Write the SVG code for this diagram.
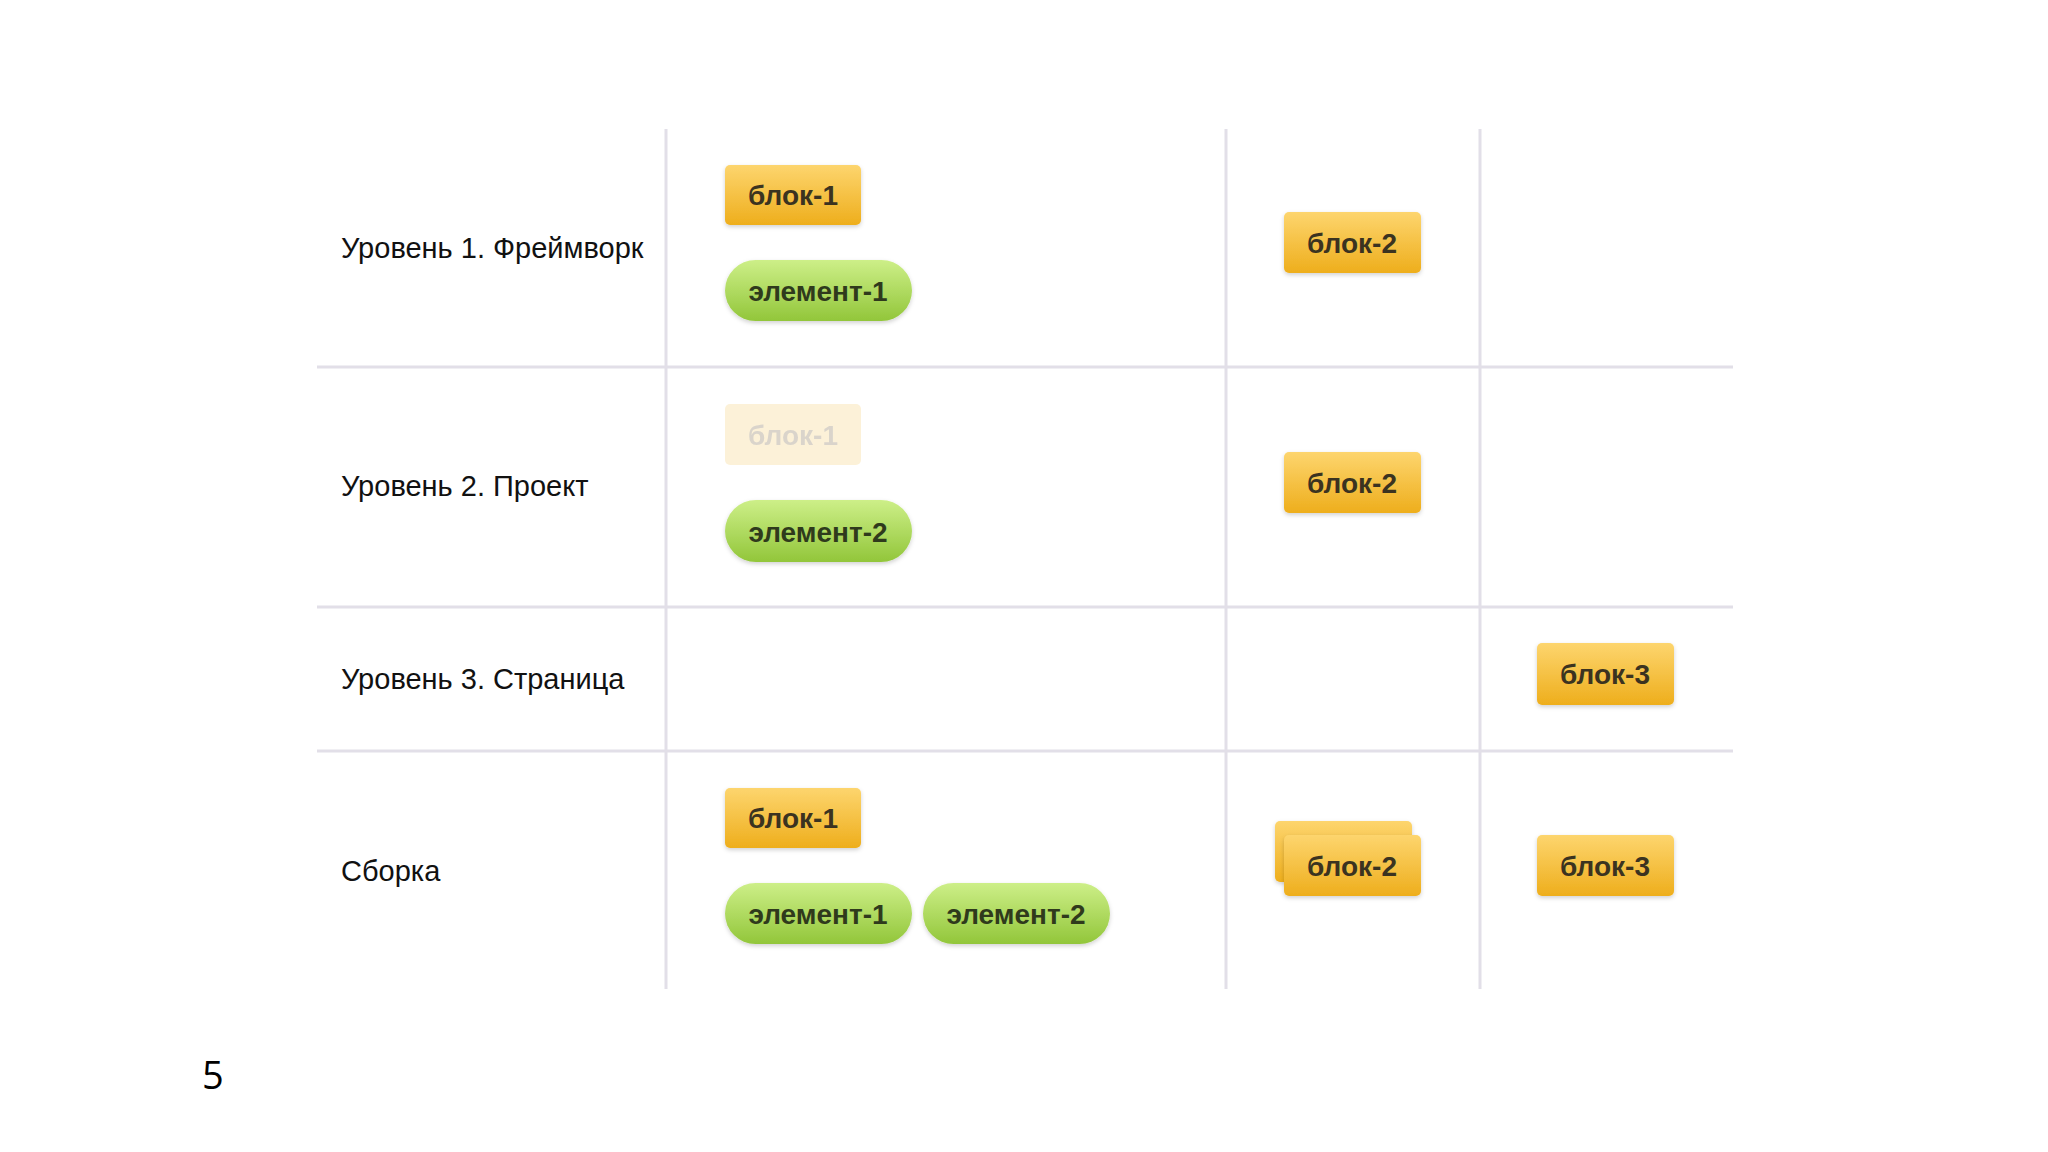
<svg xmlns="http://www.w3.org/2000/svg" width="2048" height="1152" viewBox="0 0 2048 1152">
<defs>
<linearGradient id="gBlock" x1="0" y1="0" x2="0" y2="1">
<stop offset="0" stop-color="#fdd56e"/>
<stop offset="1" stop-color="#eeae1c"/>
</linearGradient>
<linearGradient id="gElem" x1="0" y1="0" x2="0" y2="1">
<stop offset="0" stop-color="#cdef88"/>
<stop offset="1" stop-color="#92c63a"/>
</linearGradient>
<filter id="sh" x="-20%" y="-20%" width="140%" height="150%">
<feDropShadow dx="0" dy="2" stdDeviation="2" flood-color="#000" flood-opacity="0.18"/>
</filter>
</defs>
<style>
.grid{stroke:#e2dfe8;stroke-width:3;fill:none}
.lbl{font-family:"Liberation Sans",Arial,sans-serif;font-size:29px;fill:#111}
.blk{fill:url(#gBlock);filter:url(#sh)}
.elm{fill:url(#gElem);filter:url(#sh)}
.bt{font-family:"Liberation Sans",Arial,sans-serif;font-size:28px;font-weight:bold;fill:#3b3320;text-anchor:middle}
.et{font-family:"Liberation Sans",Arial,sans-serif;font-size:28px;font-weight:bold;fill:#2f3a1c;text-anchor:middle}
</style>
<rect width="2048" height="1152" fill="#ffffff"/>
<g id="connectors">
<line class="grid" x1="666" y1="129" x2="666" y2="989"/>
<line class="grid" x1="1226" y1="129" x2="1226" y2="989"/>
<line class="grid" x1="1480" y1="129" x2="1480" y2="989"/>
<line class="grid" x1="317" y1="367" x2="1733" y2="367"/>
<line class="grid" x1="317" y1="607" x2="1733" y2="607"/>
<line class="grid" x1="317" y1="751" x2="1733" y2="751"/>
</g>
<g id="labels">
<text class="lbl" x="341" y="258">Уровень 1. Фреймворк</text>
<text class="lbl" x="341" y="496">Уровень 2. Проект</text>
<text class="lbl" x="341" y="689">Уровень 3. Страница</text>
<text class="lbl" x="341" y="881">Сборка</text>
</g>
<g id="r1-blok1"><rect class="blk" x="725" y="165" width="136" height="60" rx="5"/><text class="bt" x="793" y="205">блок-1</text></g>
<g id="r1-elem1"><rect class="elm" x="725" y="260" width="187" height="61" rx="30.5"/><text class="et" x="818" y="301">элемент-1</text></g>
<g id="r1-blok2"><rect class="blk" x="1284" y="212" width="137" height="61" rx="5"/><text class="bt" x="1352" y="253">блок-2</text></g>
<g id="r2-blok1" opacity="0.9"><rect x="725" y="404" width="136" height="61" rx="5" fill="#fcf0d4"/><text class="bt" x="793" y="445" style="fill:#d6d0c6">блок-1</text></g>
<g id="r2-elem2"><rect class="elm" x="725" y="500" width="187" height="62" rx="31"/><text class="et" x="818" y="542">элемент-2</text></g>
<g id="r2-blok2"><rect class="blk" x="1284" y="452" width="137" height="61" rx="5"/><text class="bt" x="1352" y="493">блок-2</text></g>
<g id="r3-blok3"><rect class="blk" x="1537" y="643" width="137" height="62" rx="5"/><text class="bt" x="1605" y="684">блок-3</text></g>
<g id="r4-blok1"><rect class="blk" x="725" y="788" width="136" height="60" rx="5"/><text class="bt" x="793" y="828">блок-1</text></g>
<g id="r4-elem1"><rect class="elm" x="725" y="883" width="187" height="61" rx="30.5"/><text class="et" x="818" y="924">элемент-1</text></g>
<g id="r4-elem2"><rect class="elm" x="923" y="883" width="187" height="61" rx="30.5"/><text class="et" x="1016" y="924">элемент-2</text></g>
<g id="r4-blok2"><rect class="blk" x="1275" y="821" width="137" height="61" rx="5"/><rect class="blk" x="1284" y="835" width="137" height="61" rx="5"/><text class="bt" x="1352" y="876">блок-2</text></g>
<g id="r4-blok3"><rect class="blk" x="1537" y="835" width="137" height="61" rx="5"/><text class="bt" x="1605" y="876">блок-3</text></g>
<text x="202" y="1089" font-family="'Open Sans',sans-serif" font-size="38" fill="#000">5</text>
</svg>
